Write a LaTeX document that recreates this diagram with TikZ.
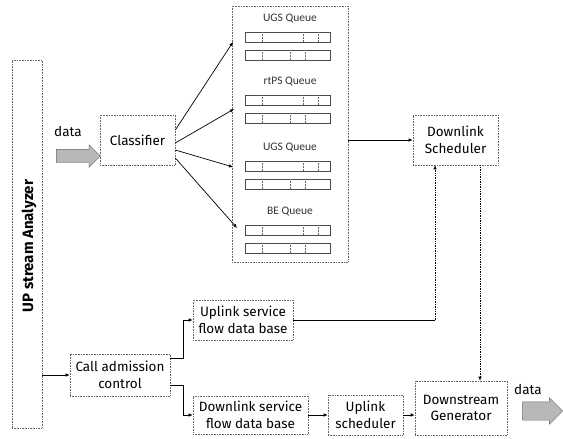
\documentclass[tikz,border=0pt]{standalone}
\usepackage{fontspec}
\setmainfont{Fira Sans}
\newfontfamily\qfont{Carlito}
\usetikzlibrary{shapes.arrows,arrows.meta,calc}
\begin{document}
\begin{tikzpicture}[x=1pt,y=-1pt,
  box/.style={draw=black!60, densely dotted, line width=0.6pt, align=center, inner sep=1pt, font=\fontsize{13.5}{16.5}\selectfont},
  conn/.style={line width=0.7pt, -{Latex[length=4pt,width=3.5pt]}},
  dotconn/.style={line width=0.7pt, densely dotted, -{Latex[length=4pt,width=3.5pt]}},
  qlabel/.style={font=\qfont\fontsize{11.5}{13}\selectfont\color{black!80}},
  qrow/.style={draw=black!70, line width=0.5pt},
  fat/.style={single arrow, draw=black!60, fill=black!28, inner sep=0pt, shape border rotate=0}]
\useasboundingbox (0,0) rectangle (563,439);
\fill[white] (0,0) rectangle (563,439);

% analyzer
\node[box, minimum width=30, minimum height=368] (ana) at (27,244) {};
\node[rotate=90, font=\fontsize{15}{17}\selectfont\bfseries] (anat) at (29,246) {UP stream Analyzer};

% input data arrow
\node[fat, minimum height=44, inner sep=6.5pt, single arrow head extend=4.5pt] (din) at (75,156) {};
\node[font=\fontsize{13.5}{16}\selectfont] (dinl) at (68,132) {data};

% classifier
\node[box, minimum width=75, minimum height=50] (cls) at (137.5,140) {Classifier};

% queue container
\node[box, minimum width=116, minimum height=256] (cont) at (290,134) {};
\foreach \L/\n/\t in {19/q1/UGS Queue,82/q2/rtPS Queue,148/q3/UGS Queue,212/q4/BE Queue}{
  \node[qlabel] (\n) at (290,\L) {\t};
  \draw[qrow] (245,\L+13) rectangle (330,\L+23);
  \draw[qrow] (245,\L+31) rectangle (330,\L+41);
  \foreach \x in {262,303,318}{\draw[black!60, densely dotted, line width=0.5pt] (\x,\L+13) -- (\x,\L+23);}
  \foreach \x in {262,290,305}{\draw[black!60, densely dotted, line width=0.5pt] (\x,\L+31) -- (\x,\L+41);}
}
\coordinate (a1) at (233,42);
\coordinate (a2) at (234,109);
\coordinate (a3) at (233,167);
\coordinate (a4) at (237,228);
\draw[conn] ([yshift=10pt]cls.east) -- (a1);
\draw[conn] ([yshift=-3pt]cls.east) -- (a2);
\draw[conn] ([yshift=-10pt]cls.east) -- (a3);
\draw[conn] ([yshift=-18pt]cls.east) -- (a4);

% downlink scheduler
\node[box, minimum width=85, minimum height=50] (dls) at (455.5,140) {Downlink\\Scheduler};
\draw[conn] (cont.east |- dls.west) -- (dls.west);

% uplink service flow db
\node[box, minimum width=100, minimum height=40] (usf) at (243,320) {Uplink service\\flow data base};
\coordinate (uc) at (435,320);
\draw[line width=0.7pt] (usf.east) -- (uc);
\draw[dotconn] (uc) -- (uc |- dls.south);

% call admission
\node[box, minimum width=100, minimum height=42] (cac) at (120,375) {Call admission\\control};
\draw[conn] (ana.east |- cac.west) -- (cac.west);
\draw[conn] ([yshift=17pt]cac.east) -- ++(13,0) |- (usf.west);

% downlink service flow db
\node[box, minimum width=115, minimum height=38] (dsf) at (250.5,415) {Downlink service\\flow data base};
\draw[conn] ([yshift=-10pt]cac.east) -- ++(13,0) |- (dsf.west);

% uplink scheduler
\node[box, minimum width=75, minimum height=40] (uls) at (365.5,415) {Uplink\\scheduler};
\draw[conn] (dsf.east) -- (uls.west);

% downstream generator
\node[box, minimum width=92, minimum height=54] (dsg) at (461,408) {Downstream\\Generator};
\draw[conn] (uls.east) -- (uls.east -| dsg.west);
\coordinate (dx) at (480,0);
\draw[dotconn] (dls.south -| dx) -- (dsg.north -| dx);

% output data arrow
\node[fat, minimum height=40, inner sep=9pt, single arrow head extend=4pt] (dout) at (538,411) {};
\node[font=\fontsize{13.5}{16}\selectfont] (doutl) at (528,390) {data};
\end{tikzpicture}
\end{document}
